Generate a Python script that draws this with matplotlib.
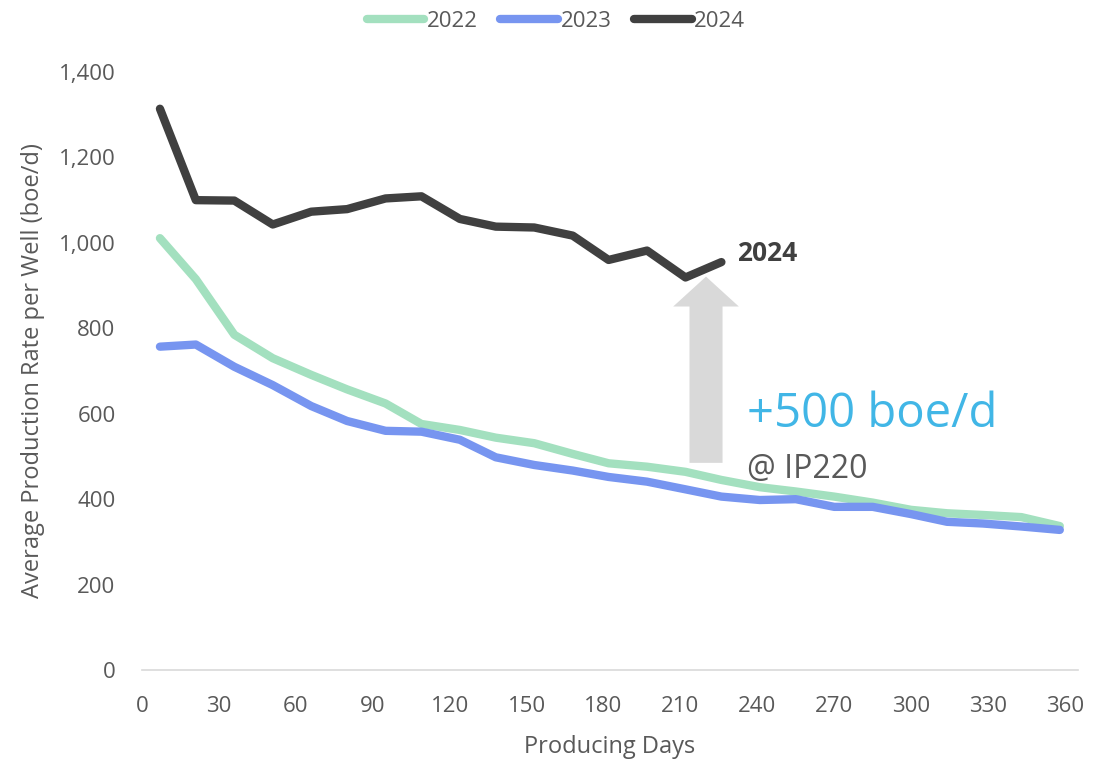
import numpy as np
import matplotlib
matplotlib.use('Agg')
import matplotlib.pyplot as plt
from matplotlib.patches import FancyArrow

plt.rcParams['font.family'] = ['Open Sans', 'DejaVu Sans']

# producing day of each monthly-ish sample
days = [7, 21, 36, 51, 66, 80, 95, 109, 124, 138, 153, 168, 182,
        197, 212, 226, 241, 255, 270, 285, 300, 314, 328, 343, 358]

rate_2022 = [1011, 915, 785, 730, 691, 657, 624, 576, 562, 544, 531, 506, 484,
             476, 464, 445, 428, 418, 406, 392, 375, 367, 363, 358, 337]
rate_2023 = [757, 762, 710, 667, 618, 583, 560, 558, 539, 498, 480, 467, 452,
             441, 423, 406, 398, 400, 382, 382, 365, 347, 343, 336, 328]
rate_2024 = [1314, 1100, 1099, 1043, 1073, 1079, 1104, 1109, 1056, 1038, 1036,
             1017, 960, 982, 919, 955]

series = [('2022', rate_2022, '#A3E0BF'),
          ('2023', rate_2023, '#7795F0'),
          ('2024', rate_2024, '#404040')]

x_ticks = [0, 30, 60, 90, 120, 150, 180, 210, 240, 270, 300, 330, 360]
y_ticks = [0, 200, 400, 600, 800, 1000, 1200, 1400]

arrow_day = 220
arrow_from = 485
arrow_to = 921

fig = plt.figure(figsize=(11.12, 7.62), dpi=100)
ax = fig.add_axes([0.1277, 0.1207, 0.8415, 0.7848])

for label, vals, color in series:
    ax.plot(days[:len(vals)], vals, color=color, lw=6, label=label,
            solid_capstyle='round', solid_joinstyle='round')

# gray block arrow showing the uplift
ax.add_patch(FancyArrow(arrow_day, arrow_from, 0, arrow_to - arrow_from,
                        width=12.9, head_width=25.6, head_length=70,
                        length_includes_head=True, color='#D9D9D9', lw=0,
                        zorder=1))

ax.text(days[len(rate_2024) - 1] + 6, rate_2024[-1] + 20, '2024',
        fontsize=19, fontweight='bold', color='#404040', va='center')
ax.text(236, 598, '+500 boe/d', fontsize=34, color='#41B6E6', va='center')
ax.text(236, 470, '@ IP220', fontsize=23, color='#595959', va='center')

ax.set_xlim(0, 365)
ax.set_ylim(0, 1400)
ax.set_xticks(x_ticks)
ax.set_yticks(y_ticks)
ax.set_yticklabels(['{:,}'.format(v) for v in y_ticks])
ax.tick_params(length=0, labelsize=16, colors='#595959')
ax.tick_params(axis='x', pad=19)
ax.tick_params(axis='y', pad=19)
for side in ['top', 'right', 'left']:
    ax.spines[side].set_visible(False)
ax.spines['bottom'].set_color('#D9D9D9')
ax.spines['bottom'].set_linewidth(1.2)

ax.set_xlabel('Producing Days', fontsize=17, color='#595959', labelpad=13)
ax.set_ylabel('Average Production Rate per Well (boe/d)', fontsize=17,
              color='#595959', labelpad=10)

leg = fig.legend(loc='upper center', bbox_to_anchor=(0.5, 1.012), ncol=3,
                 frameon=False, fontsize=16, handlelength=2.6,
                 handletextpad=0.12, columnspacing=1.0)
for t in leg.get_texts():
    t.set_color('#595959')

fig.savefig('out.png', dpi=100)
